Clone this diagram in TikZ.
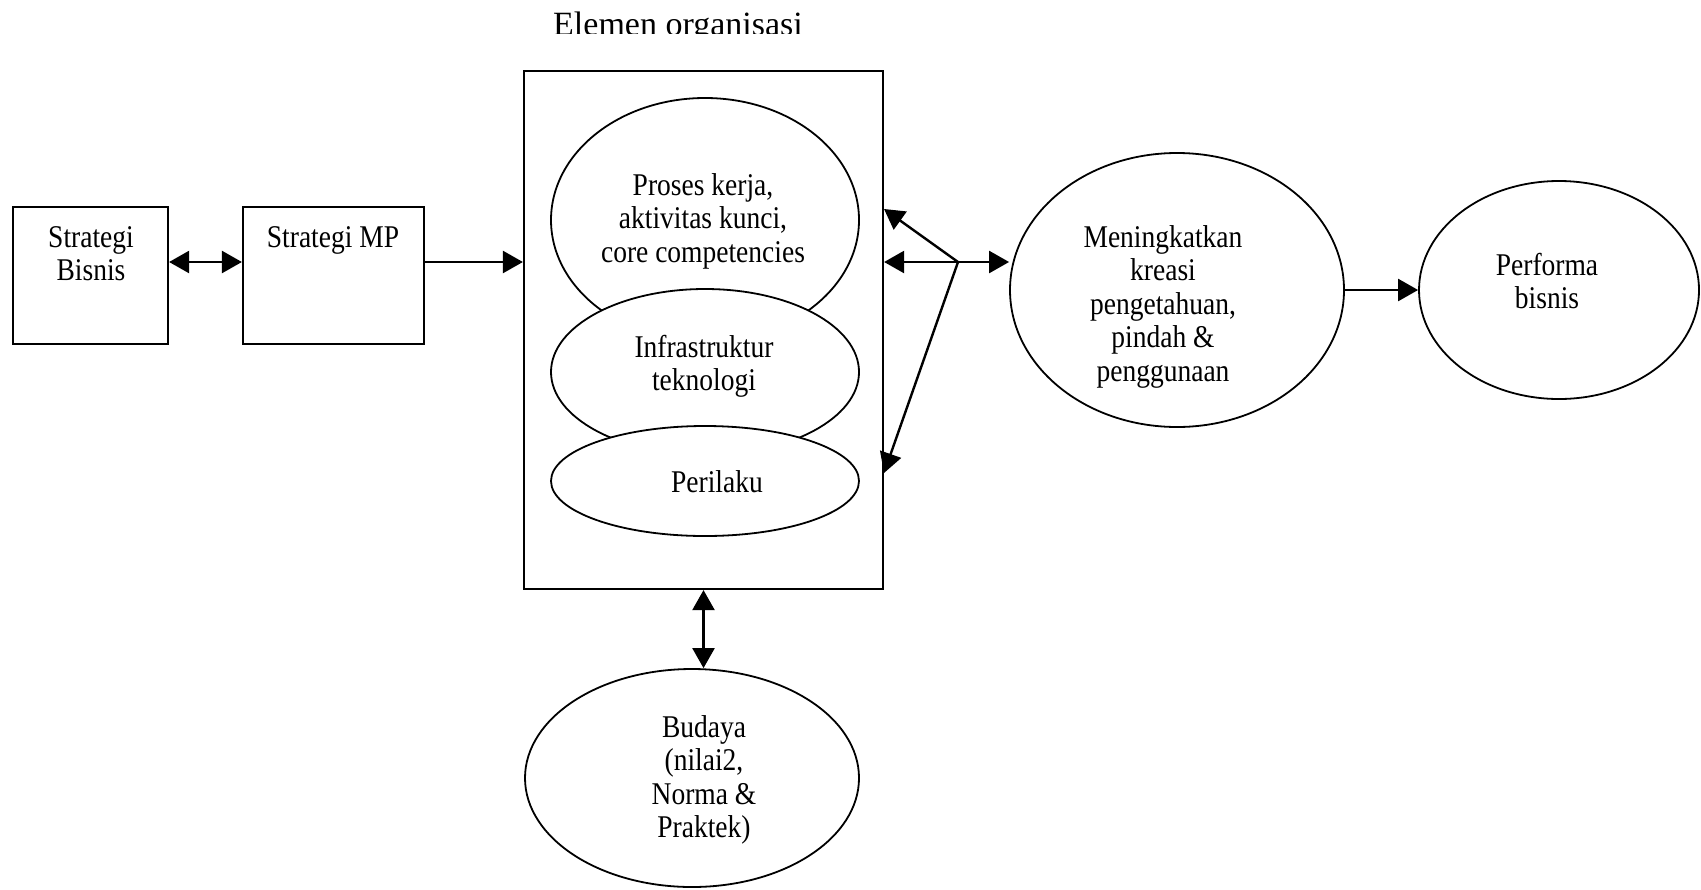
\documentclass[tikz,border=0pt]{standalone}
\usepackage{fontspec}
\setmainfont{Liberation Serif}
\usetikzlibrary{shapes.geometric,arrows.meta}
\newcommand{\vtxt}[1]{\scalebox{1}[1.15]{\begin{tabular}[t]{@{}c@{}}#1\end{tabular}}}
\begin{document}
\begin{tikzpicture}[x=0.5pt,y=-0.5pt,
  box/.style={draw,line width=1.1pt,rectangle,inner sep=0},
  oval/.style={draw,line width=0.9pt,ellipse,inner sep=0,fill=white},
  lbl/.style={inner sep=0,anchor=base,font=\fontsize{13.75}{14.6}\selectfont},
  tip/.tip={Triangle[length=10pt,width=11pt]},
  conn/.style={line width=1.2pt,-tip},
  dconn/.style={line width=1.2pt,tip-tip}]
\useasboundingbox (0,0) rectangle (1701,889);

% title (cut off at the bottom as in the reference)
\begin{scope}
  \clip (400,0) rectangle (1000,33);
  \node[lbl,font=\fontsize{17}{20}\selectfont] (title) at (678,35) {Elemen organisasi};
\end{scope}

% boxes
\node[box,minimum width=77.5pt,minimum height=68.5pt] (bisnis) at (90.5,275.5) {};
\node[box,minimum width=90.5pt,minimum height=68.5pt] (mp) at (333.5,275.5) {};
\node[box,minimum width=179.5pt,minimum height=259pt] (big) at (703.5,330) {};

% inner ellipses
\node[oval,minimum width=154pt,minimum height=122pt] (e1) at (705,220) {};
\node[oval,minimum width=154pt,minimum height=83pt] (e2) at (705,372) {};
\node[oval,minimum width=154pt,minimum height=55pt] (e3) at (705,481) {};

% outer ellipses
\node[oval,minimum width=167pt,minimum height=109pt] (bud) at (692,778) {};
\node[oval,minimum width=167pt,minimum height=137pt] (men) at (1177,290) {};
\node[oval,minimum width=140pt,minimum height=109pt] (perf) at (1559,290) {};

% labels
\node[lbl] (tbisnis) at (91,247) {\vtxt{Strategi\\Bisnis}};
\node[lbl] (tmp) at (333,247) {\vtxt{Strategi MP}};
\node[lbl] (te1) at (703,195) {\vtxt{Proses kerja,\\aktivitas kunci,\\core competencies}};
\node[lbl] (te2) at (704,357) {\vtxt{Infrastruktur\\teknologi}};
\node[lbl] (te3) at (717,492) {\vtxt{Perilaku}};
\node[lbl] (tbud) at (704,737) {\vtxt{Budaya\\(nilai2,\\Norma \&\\Praktek)}};
\node[lbl] (tmen) at (1163,247) {\vtxt{Meningkatkan\\kreasi\\pengetahuan,\\pindah \&\\penggunaan}};
\node[lbl] (tperf) at (1547,275) {\vtxt{Performa\\bisnis}};

% connectors
\coordinate (hub) at (958,262);
\coordinate (up) at (884,209);
\coordinate (dn) at (884,473);
\draw[dconn] (bisnis.east |- hub) -- (mp.west |- hub);
\draw[conn] (mp.east |- hub) -- (big.west |- hub);
\draw[conn] (hub) -- (big.east |- hub);
\draw[conn] (hub) -- (up);
\draw[conn] (hub) -- (dn);
\draw[conn] (hub) -- (men.west |- hub);
\draw[conn] (men.east) -- (perf.west);
\draw[dconn] (big.south) -- (big.south |- bud.north);
\end{tikzpicture}
\end{document}
